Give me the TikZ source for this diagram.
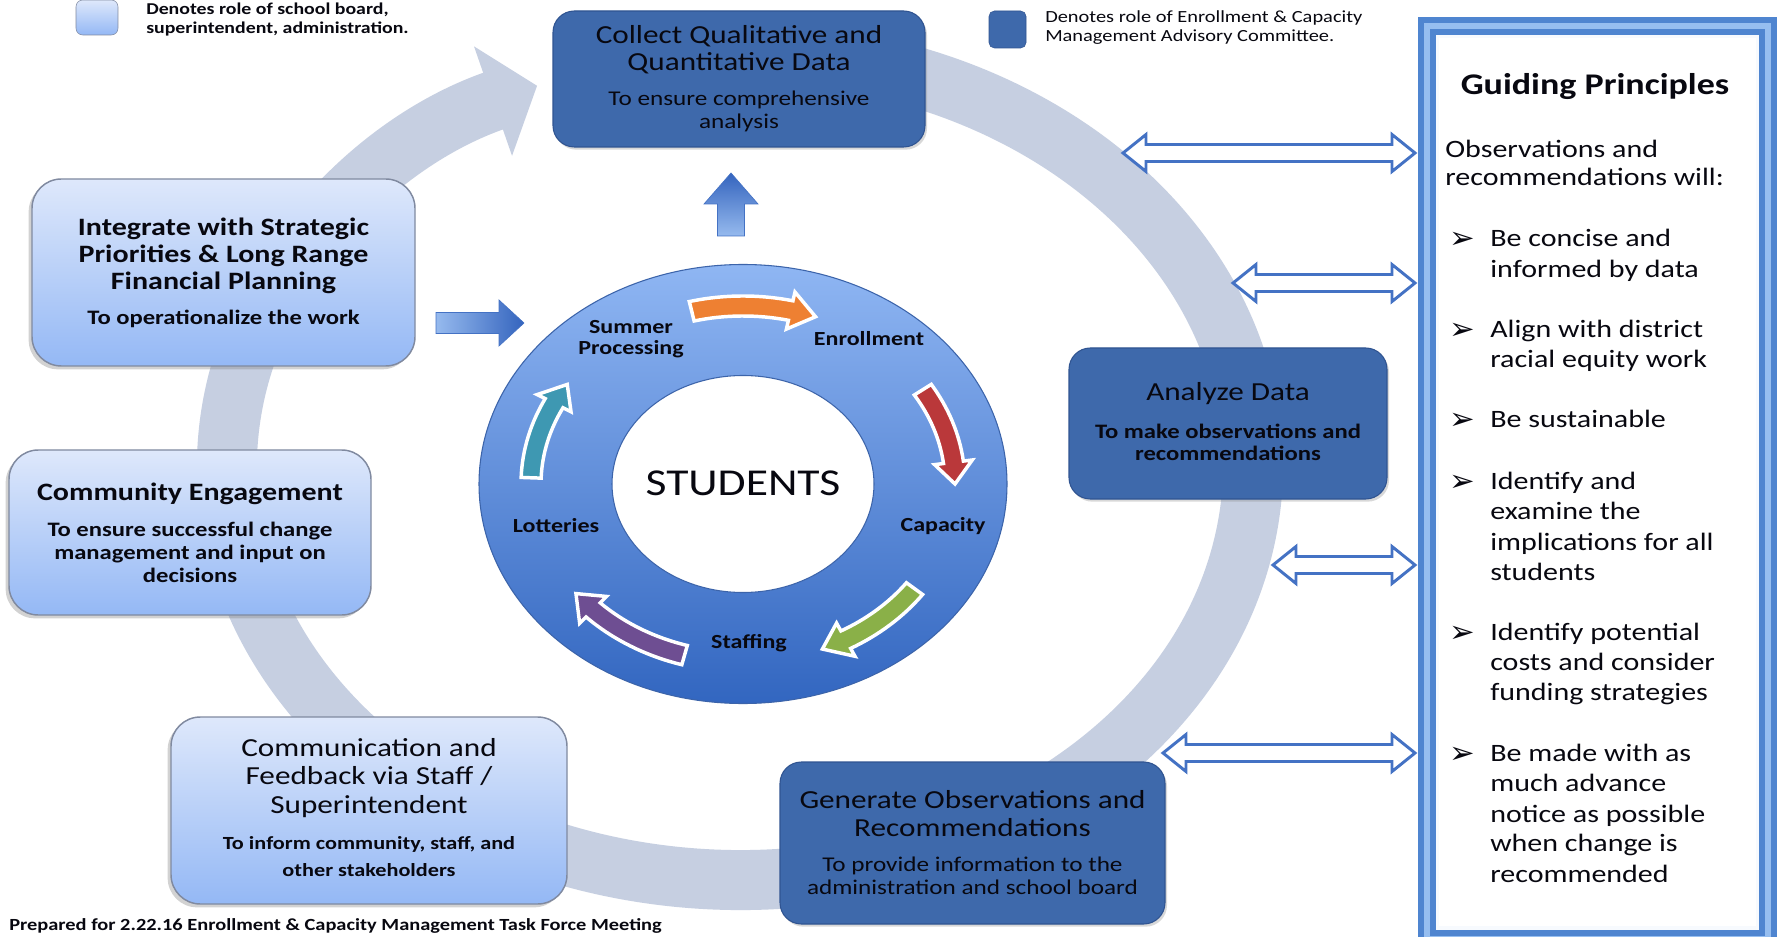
\documentclass[tikz,border=0pt]{standalone}
\usepackage{fontspec}
\setmainfont{Carlito}[FakeStretch=1.2]
\newfontfamily\symfont{DejaVu Sans}
\usetikzlibrary{arrows.meta,shadows,calc}

\definecolor{ringgray}{RGB}{198,207,225}
\definecolor{darkfill}{RGB}{62,105,171}
\definecolor{darkedge}{RGB}{48,84,145}
\definecolor{lighttop}{RGB}{222,232,251}
\definecolor{lightbot}{RGB}{148,184,245}
\definecolor{lightedge}{RGB}{128,138,160}
\definecolor{arrowblue}{RGB}{68,114,196}
\definecolor{framemid}{RGB}{79,133,208}
\definecolor{framelight}{RGB}{150,190,240}
\definecolor{ringtop}{RGB}{143,182,243}
\definecolor{ringbot}{RGB}{50,102,192}
\definecolor{ringedge}{RGB}{60,100,170}
\definecolor{textdark}{RGB}{8,8,16}
\definecolor{aorange}{RGB}{238,128,50}
\definecolor{ared}{RGB}{186,56,58}
\definecolor{agreen}{RGB}{138,176,72}
\definecolor{apurple}{RGB}{110,78,146}
\definecolor{ateal}{RGB}{62,152,178}
\definecolor{blocklight}{RGB}{150,186,238}
\definecolor{blockdark}{RGB}{52,100,190}

\newcommand\fsz[2]{\fontsize{#1}{#2}\selectfont}

\tikzset{
  lightbox/.style={rounded corners=22pt, top color=lighttop, bottom color=lightbot,
    draw=lightedge, line width=1.1pt, inner sep=0pt,
    drop shadow={shadow xshift=-2.5pt, shadow yshift=-2.5pt, opacity=0.35}},
  darkbox/.style={rounded corners=16pt, fill=darkfill, draw=darkedge, line width=0.8pt,
    inner sep=0pt, drop shadow={shadow xshift=1.5pt, shadow yshift=-2pt, opacity=0.3}},
  txt/.style={inner sep=0pt, align=center, text=textdark},
  gtxt/.style={inner sep=0pt, text=textdark, font=\fsz{18.75pt}{22.65pt}, anchor=base west},
  gbul/.style={inner sep=0pt, text=textdark, font=\symfont\fsz{23pt}{23pt}, anchor=base west},
  dblarr/.style={draw=arrowblue, line width=2.2pt, fill=white, line join=miter},
  ringlbl/.style={inner sep=0pt, align=center, text=textdark, font=\bfseries\fsz{15pt}{15.75pt}},
}

\newcommand\dblarrow[3]{%
  \path[dblarr] (#1,#3) -- (#1+23,#3-18.5) -- (#1+23,#3-8.5) -- (#2-23,#3-8.5)
    -- (#2-23,#3-18.5) -- (#2,#3) -- (#2-23,#3+18.5) -- (#2-23,#3+8.5)
    -- (#1+23,#3+8.5) -- (#1+23,#3+18.5) -- cycle;}

\newcommand\ringarrow[3]{%
  \path[fill=#1, draw=white, line width=2.6pt, line join=miter]
    ($(cc)+(#2:222 and 188)$)
    arc[start angle=#2, end angle=#3-7, x radius=222, y radius=188]
    -- ($(cc)+({#3-7}:231 and 197)$)
    -- ($(cc)+(#3:212 and 178)$)
    -- ($(cc)+({#3-7}:193 and 159)$)
    -- ($(cc)+({#3-7}:202 and 168)$)
    arc[start angle=#3-7, end angle=#2, x radius=202, y radius=168]
    -- cycle;}

\begin{document}
\begin{tikzpicture}[x=0.75pt,y=-0.75pt]
\useasboundingbox (0,0) rectangle (1777,937);
\fill[white] (0,0) rectangle (1777,937);

% big grey cycle
\coordinate (cg) at (740,466);
\draw[ringgray, line width=45pt, -{Triangle[length=35pt,width=85pt]}]
  ($(cg)+(-80:513 and 414)$) arc[start angle=-80, end angle=246.7, x radius=513, y radius=414];

% guiding principles frame
\fill[framemid] (1418,17) rectangle (1777,948);
\fill[framelight] (1424,23) rectangle (1771,942);
\fill[framemid] (1430,29) rectangle (1765,936);
\fill[white!92!framelight] (1436,35) rectangle (1759,930);
\fill[white] (1439,38) rectangle (1756,926);

% double arrows
\dblarrow{1123}{1415}{153}
\dblarrow{1233}{1415}{283}
\dblarrow{1273}{1415}{565}
\dblarrow{1163}{1415}{753}

% light boxes
\node[lightbox, minimum width=287.25pt, minimum height=140.25pt] (integ) at (223.5,272.5) {};
\node[txt, font=\bfseries\fsz{18.75pt}{20.25pt}] (integT) at (223.5,256) {Integrate with Strategic\\Priorities \& Long Range\\Financial Planning};
\node[txt, font=\bfseries\fsz{15.4pt}{17.25pt}] (integS) at (223.5,319) {To operationalize the work};

\node[lightbox, minimum width=271.5pt, minimum height=123.75pt] (comm) at (190,532.5) {};
\node[txt, font=\bfseries\fsz{18.75pt}{20.25pt}] (commT) at (190,494) {Community Engagement};
\node[txt, font=\bfseries\fsz{15.4pt}{17.25pt}] (commS) at (190,552) {To ensure successful change\\management and input on\\decisions};

\node[lightbox, minimum width=297pt, minimum height=140.25pt] (commu) at (369,810.5) {};
\node[txt, font=\fsz{19.5pt}{21.4pt}] (commuT) at (369,778) {Communication and\\Feedback via Staff /\\Superintendent};
\node[txt, font=\bfseries\fsz{13.9pt}{20.25pt}] (commuS) at (369,857) {To inform community, staff, and\\other stakeholders};

% dark boxes
\node[darkbox, minimum width=279pt, minimum height=102pt] (collect) at (739,79) {};
\node[txt, font=\fsz{19.5pt}{20.25pt}] (collectT) at (739,49.5) {Collect Qualitative and\\Quantitative Data};
\node[txt, font=\fsz{15.75pt}{17.25pt}] (collectS) at (739,111) {To ensure comprehensive\\analysis};

\node[darkbox, minimum width=238.5pt, minimum height=113.25pt] (analyze) at (1228,423.5) {};
\node[txt, font=\fsz{19.5pt}{20.25pt}] (analyzeT) at (1228,394) {Analyze Data};
\node[txt, font=\bfseries\fsz{15.4pt}{16.5pt}] (analyzeS) at (1228,442) {To make observations and\\recommendations};

\node[darkbox, minimum width=288.75pt, minimum height=121.5pt] (generate) at (972.5,843) {};
\node[txt, font=\fsz{19.5pt}{21pt}] (generateT) at (972.5,814) {Generate Observations and\\Recommendations};
\node[txt, font=\fsz{15.75pt}{17.25pt}] (generateS) at (972.5,876) {To provide information to the\\administration and school board};

% central students ring
\coordinate (cc) at (743,484);
\path[top color=ringtop, bottom color=ringbot, draw=ringedge, line width=0.8pt]
  (cc) ellipse [x radius=264, y radius=219.5];
\path[fill=white, draw=ringedge, line width=0.8pt] (cc) ellipse [x radius=131, y radius=108.5];
\node[txt, font=\fsz{28.5pt}{30pt}] (students) at (743,483) {STUDENTS};

\ringarrow{aorange}{-104}{-70}
\ringarrow{ared}{-32}{0}
\ringarrow{agreen}{36}{68}
\ringarrow{apurple}{106}{142}
\ringarrow{ateal}{182}{214}

\node[ringlbl] (summer) at (631,339) {Summer\\Processing};
\node[ringlbl] (enroll) at (869,339) {Enrollment};
\node[ringlbl] (capacity) at (943,526) {Capacity};
\node[ringlbl] (staffing) at (749,643) {Staffing};
\node[ringlbl] (lotteries) at (556,526) {Lotteries};

% block arrows
\path[left color=blocklight, right color=blockdark, draw=arrowblue, line width=0.5pt]
  (436,312.5) -- (499,312.5) -- (499,300) -- (524,323) -- (499,346) -- (499,333.5) -- (436,333.5) -- cycle;
\path[bottom color=blocklight, top color=blockdark, draw=arrowblue, line width=0.5pt]
  (717.5,236) -- (717.5,204) -- (704,204) -- (731,173) -- (758,204) -- (744.5,204) -- (744.5,236) -- cycle;

% guiding principles text
\node[inner sep=0pt, text=textdark, font=\bfseries\fsz{22.5pt}{24pt}] (gptitle) at (1595,87) {Guiding Principles};
\node[gtxt] (gp1) at (1445,158) {Observations and};
\node[gtxt] (gp2) at (1445,186) {recommendations will:};
\foreach \yy [count=\i] in {247,338,428,489,640,761}
  \node[gbul] (bul\i) at (1449,\yy+2) {➢};
\foreach \yy/\tt [count=\i] in {247/Be concise and, 278/informed by data,
  338/Align with district, 368/racial equity work, 428/Be sustainable,
  489/Identify and, 519/examine the, 550/implications for all, 580/students,
  640/Identify potential, 670/costs and consider, 700/funding strategies,
  761/Be made with as, 791/much advance, 822/notice as possible,
  851/when change is, 882/recommended}
  \node[gtxt] (gl\i) at (1490,\yy) {\tt};

% legend
\node[draw=lightedge, rounded corners=5pt, top color=lighttop, bottom color=lightbot,
  minimum width=31.5pt, minimum height=26.25pt, inner sep=0pt] (leg1) at (97,17.5) {};
\node[txt, align=left, anchor=west, font=\bfseries\fsz{12.4pt}{14.25pt}] (leg1t) at (146,19.5)
  {Denotes role of school board,\\superintendent, administration.};
\node[fill=darkfill, draw=darkedge, rounded corners=4pt, minimum width=27.75pt,
  minimum height=27.75pt, inner sep=0pt] (leg2) at (1007.5,29.5) {};
\node[txt, align=left, anchor=west, font=\fsz{12.75pt}{14.25pt}] (leg2t) at (1045,27.5)
  {Denotes role of Enrollment \& Capacity\\Management Advisory Committee.};

% footer
\node[inner sep=0pt, anchor=base west, text=textdark, font=\bfseries\fsz{12.75pt}{14pt}] (footer) at (9,930)
  {Prepared for 2.22.16 Enrollment \& Capacity Management Task Force Meeting};
\end{tikzpicture}
\end{document}
